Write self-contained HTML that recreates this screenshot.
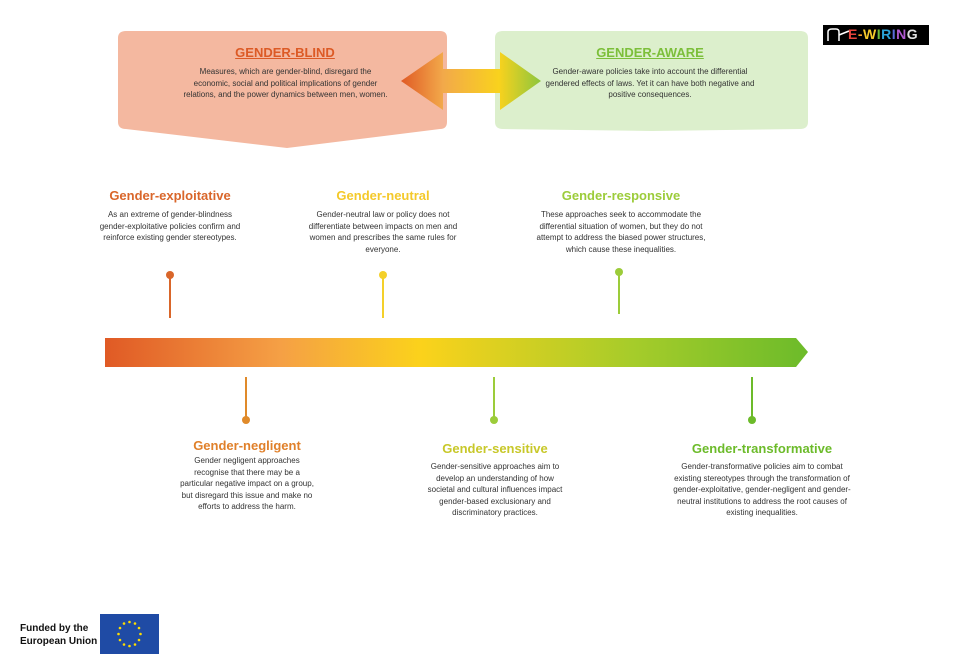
<!DOCTYPE html>
<html><head><meta charset="utf-8"><style>
body{margin:0;width:957px;height:669px;background:#fff;position:relative;font-family:"Liberation Sans",sans-serif;overflow:hidden}
.a{position:absolute;text-align:center}
.t{font-weight:bold;font-size:13px}
.p{font-size:8px;line-height:11.5px;color:#333}
</style></head><body>
<svg width="957" height="669" style="position:absolute;left:0;top:0">
<defs>
<linearGradient id="g1" x1="0" x2="1"><stop offset="0" stop-color="#e05a25"/><stop offset="0.3" stop-color="#f2a94a"/><stop offset="0.7" stop-color="#f9d21d"/><stop offset="1" stop-color="#8cc63e"/></linearGradient>
<linearGradient id="g2" x1="0" x2="1"><stop offset="0" stop-color="#e05a25"/><stop offset="0.25" stop-color="#f5a045"/><stop offset="0.45" stop-color="#fbd21b"/><stop offset="0.75" stop-color="#a6cc2a"/><stop offset="1" stop-color="#6cbb2a"/></linearGradient>
</defs>
<path d="M126,31H440Q447,31 447,38V122Q447,129 440,129L287,148L126,129Q118,129 118,122V38Q118,31 126,31Z" fill="#f4b8a0"/>
<path d="M503,31H800Q808,31 808,38V122Q808,129 800,129L652,131L503,129Q495,129 495,122V38Q495,31 503,31Z" fill="#dcefcc"/>
<path d="M401,81L443,52V69H500V52L541,81L500,110V93H443V110Z" fill="url(#g1)"/>
<path d="M105,338H796L808,352L796,367H105Z" fill="url(#g2)"/>
<g stroke-width="2">
<line x1="170" y1="275" x2="170" y2="318" stroke="#d9662a"/><circle cx="170" cy="275" r="4" fill="#d9662a"/>
<line x1="383" y1="275" x2="383" y2="318" stroke="#f4d02a"/><circle cx="383" cy="275" r="4" fill="#f4d02a"/>
<line x1="619" y1="272" x2="619" y2="314" stroke="#9ccc3a"/><circle cx="619" cy="272" r="4" fill="#9ccc3a"/>
<line x1="246" y1="377" x2="246" y2="420" stroke="#e08a2a"/><circle cx="246" cy="420" r="4" fill="#e08a2a"/>
<line x1="494" y1="377" x2="494" y2="420" stroke="#9ccc3a"/><circle cx="494" cy="420" r="4" fill="#9ccc3a"/>
<line x1="752" y1="377" x2="752" y2="420" stroke="#6cbb2a"/><circle cx="752" cy="420" r="4" fill="#6cbb2a"/>
</g>
<rect x="100" y="614" width="59" height="40" fill="#1f4ba5"/>
<g fill="#ffdd00">
<circle cx="129.5" cy="622" r="1.3"/><circle cx="135" cy="623.5" r="1.3"/><circle cx="139" cy="628" r="1.3"/><circle cx="140.5" cy="634" r="1.3"/><circle cx="139" cy="640" r="1.3"/><circle cx="135" cy="644.5" r="1.3"/><circle cx="129.5" cy="646" r="1.3"/><circle cx="124" cy="644.5" r="1.3"/><circle cx="120" cy="640" r="1.3"/><circle cx="118.5" cy="634" r="1.3"/><circle cx="120" cy="628" r="1.3"/><circle cx="124" cy="623.5" r="1.3"/>
</g>
<rect x="823" y="25" width="106" height="20" fill="#000"/>
<path d="M828,41V32Q828,29 832,29H836Q839,29 839,32V41M839,35L849,31" stroke="#fff" stroke-width="1.5" fill="none"/>
</svg>
<div class="a" style="left:848px;top:26px;font-size:14px;font-weight:bold;letter-spacing:0.5px"><span style="color:#e8453c">E</span><span style="color:#f29b2b">-</span><span style="color:#f4c92b">W</span><span style="color:#6cbb3a">I</span><span style="color:#2aa3d9">R</span><span style="color:#5a6bd9">I</span><span style="color:#b05ad0">N</span><span style="color:#e0e0e0">G</span></div>
<div class="a t" style="left:185px;top:45px;width:200px;color:#dc5a25;text-decoration:underline">GENDER-BLIND</div>
<div class="a p" style="left:183px;top:66px;width:205px">Measures, which are gender-blind, disregard the economic, social and political implications of gender relations, and the power dynamics between men, women.</div>
<div class="a t" style="left:550px;top:45px;width:200px;color:#7cbf3a;text-decoration:underline">GENDER-AWARE</div>
<div class="a p" style="left:540px;top:66px;width:220px">Gender-aware policies take into account the differential gendered effects of laws. Yet it can have both negative and positive consequences.</div>
<div class="a t" style="left:70px;top:188px;width:200px;color:#d9662a">Gender-exploitative</div>
<div class="a p" style="left:98px;top:209px;width:144px">As an extreme of gender-blindness gender-exploitative policies confirm and reinforce existing gender stereotypes.</div>
<div class="a t" style="left:283px;top:188px;width:200px;color:#f4c92a">Gender-neutral</div>
<div class="a p" style="left:302px;top:209px;width:162px">Gender-neutral law or policy does not differentiate between impacts on men and women and prescribes the same rules for everyone.</div>
<div class="a t" style="left:521px;top:188px;width:200px;color:#9ccc3a">Gender-responsive</div>
<div class="a p" style="left:531px;top:209px;width:180px">These approaches seek to accommodate the differential situation of women, but they do not attempt to address the biased power structures, which cause these inequalities.</div>
<div class="a t" style="left:147px;top:438px;width:200px;color:#e0802a">Gender-negligent</div>
<div class="a p" style="left:177px;top:455px;width:140px">Gender negligent approaches recognise that there may be a particular negative impact on a group, but disregard this issue and make no efforts to address the harm.</div>
<div class="a t" style="left:395px;top:441px;width:200px;color:#c8c82a">Gender-sensitive</div>
<div class="a p" style="left:422px;top:461px;width:146px">Gender-sensitive approaches aim to develop an understanding of how societal and cultural influences impact gender-based exclusionary and discriminatory practices.</div>
<div class="a t" style="left:662px;top:441px;width:200px;color:#6cbb2a">Gender-transformative</div>
<div class="a p" style="left:667px;top:461px;width:190px">Gender-transformative policies aim to combat existing stereotypes through the transformation of gender-exploitative, gender-negligent and gender-neutral institutions to address the root causes of existing inequalities.</div>
<div style="position:absolute;left:20px;top:622px;font-size:10px;font-weight:bold;line-height:13px;color:#111">Funded by the<br>European Union</div>
</body></html>
